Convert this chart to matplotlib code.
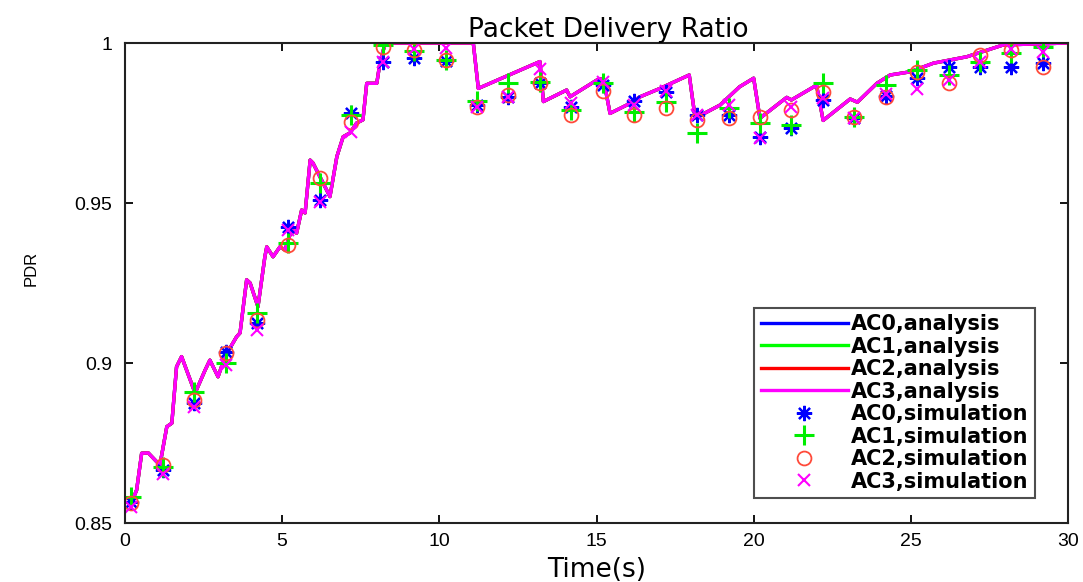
import matplotlib
matplotlib.use("Agg")
import matplotlib.pyplot as plt

# ---------------- data ----------------
analysis_time = [0.2, 0.37, 0.53, 0.74, 1.11, 1.33, 1.49, 1.64, 1.80, 2.23, 2.55, 2.70,
                 2.96, 3.18, 3.55, 3.66, 3.87, 3.98, 4.23, 4.45, 4.51, 4.71, 4.93, 5.09,
                 5.30, 5.46, 5.62, 5.73, 5.89, 5.98, 6.52, 6.74, 6.94, 7.16, 7.37, 7.57,
                 7.69, 8.01, 8.11, 8.28, 11.08, 11.24, 13.2, 13.31, 14.05, 14.16, 15.01,
                 15.22, 15.43, 15.96, 16.39, 17.02, 17.95, 18.14, 18.93, 19.55, 20.0,
                 20.2, 21.05, 21.2, 22.0, 22.21, 23.07, 23.3, 23.92, 24.34, 24.98, 25.72,
                 26.78, 27.94, 30.0]
analysis_pdr = [0.8562, 0.8603, 0.8718, 0.8719, 0.8681, 0.8801, 0.8812, 0.8988, 0.9020,
                0.8906, 0.8978, 0.9009, 0.8957, 0.9020, 0.9082, 0.9094, 0.9260, 0.9250,
                0.9176, 0.9332, 0.9363, 0.9332, 0.9363, 0.9353, 0.9416, 0.9406, 0.9478,
                0.9469, 0.9634, 0.9625, 0.9520, 0.9645, 0.9707, 0.9719, 0.9750, 0.9760,
                0.9874, 0.9874, 0.9938, 1.0, 1.0, 0.9858, 0.9942, 0.9817, 0.9853, 0.9832,
                0.9884, 0.9889, 0.9780, 0.9806, 0.9832, 0.9858, 0.9900, 0.9765, 0.9806,
                0.9863, 0.9890, 0.9765, 0.9830, 0.9822, 0.9868, 0.9758, 0.9825, 0.9815,
                0.9874, 0.9900, 0.9910, 0.9937, 0.9957, 0.9994, 1.0]

sim_time = [0.2, 1.2, 2.2, 3.2, 4.2, 5.2, 6.2, 7.2, 8.2, 9.2, 10.2, 11.2, 12.2, 13.2, 14.2,
            15.2, 16.2, 17.2, 18.2, 19.2, 20.2, 21.2, 22.2, 23.2, 24.2, 25.2, 26.2, 27.2,
            28.2, 29.2]
ac0_sim = [0.8567, 0.8666, 0.8874, 0.9035, 0.9124, 0.9424, 0.9509, 0.9780, 0.9942, 0.9952,
           0.9945, 0.9806, 0.9832, 0.9876, 0.9801, 0.9869, 0.9820, 0.9848, 0.9775, 0.9775,
           0.9707, 0.9733, 0.9822, 0.9765, 0.9834, 0.9890, 0.9926, 0.9926, 0.9924, 0.9937]
ac1_sim = [0.8582, 0.8676, 0.8910, 0.9000, 0.9155, 0.9376, 0.9563, 0.9775, 0.9994, 0.9976,
           0.9947, 0.9820, 0.9874, 0.9879, 0.9790, 0.9874, 0.9785, 0.9817, 0.9718, 0.9796,
           0.9749, 0.9744, 0.9874, 0.9770, 0.9869, 0.9916, 0.9900, 0.9942, 0.9968, 0.9989]
ac2_sim = [0.8561, 0.8681, 0.8884, 0.9030, 0.9134, 0.9369, 0.9577, 0.9754, 0.9989, 0.9978,
           0.9947, 0.9801, 0.9838, 0.9874, 0.9775, 0.9851, 0.9775, 0.9796, 0.9760, 0.9765,
           0.9770, 0.9790, 0.9848, 0.9770, 0.9832, 0.9910, 0.9874, 0.9963, 0.9978, 0.9926]
ac3_sim = [0.8550, 0.8653, 0.8862, 0.8994, 0.9103, 0.9416, 0.9504, 0.9723, 0.9942, 0.9980,
           0.9983, 0.9800, 0.9832, 0.9918, 0.9812, 0.9879, 0.9806, 0.9850, 0.9775, 0.9806,
           0.9702, 0.9801, 0.9827, 0.9765, 0.9840, 0.9855, 0.9884, 0.9942, 0.9980, 0.9973]

series_names = ["AC0", "AC1", "AC2", "AC3"]
x_ticks = [0, 5, 10, 15, 20, 25, 30]
y_ticks = [0.85, 0.9, 0.95, 1.0]
y_tick_labels = ["0.85", "0.9", "0.95", "1"]

# ---------------- plot ----------------
plt.rcParams['font.family'] = ['Liberation Sans', 'DejaVu Sans']
fig = plt.figure(figsize=(10.83, 5.82), dpi=100)
ax = fig.add_axes([125 / 1083, 1 - 523 / 582, 943 / 1083, 480 / 582])

line_colors = ['#0000ff', '#00ff00', '#ff0000', '#ff00ff']
for name, c in zip(series_names, line_colors):
    ax.plot(analysis_time, analysis_pdr, color=c, lw=2.4, label=f"{name},analysis")

ax.plot(sim_time, ac0_sim, ls='none', marker=(8, 2, 0), ms=11, mew=1.6,
        color='#0000ff', label="AC0,simulation")
ax.plot(sim_time, ac1_sim, ls='none', marker='+', ms=15, mew=2.2,
        color='#00ee00', label="AC1,simulation")
ax.plot(sim_time, ac2_sim, ls='none', marker='o', ms=10, mew=1.3, mfc='none',
        color='#ff4a3a', label="AC2,simulation")
ax.plot(sim_time, ac3_sim, ls='none', marker='x', ms=8, mew=1.5,
        color='#ff00ff', label="AC3,simulation")

ax.set_xlim(0, 30)
ax.set_ylim(0.85, 1.0)
ax.set_xticks(x_ticks)
ax.set_yticks(y_ticks)
ax.set_yticklabels(y_tick_labels)
ax.tick_params(direction='in', length=6, width=1.3, labelsize=14, top=True, right=True)
ax.tick_params(axis='x', pad=7)
ax.tick_params(axis='y', pad=9)
for sp in ax.spines.values():
    sp.set_linewidth(1.5)
    sp.set_color('#222222')

ax.set_title("Packet Delivery Ratio", fontsize=19, pad=4, family='DejaVu Sans', x=0.512)
ax.set_xlabel("Time(s)", fontsize=19, labelpad=5, family='DejaVu Sans')
ax.set_ylabel("PDR", fontsize=12)
ax.yaxis.set_label_coords(-0.092, 0.53)

leg = ax.legend(loc='lower right', bbox_to_anchor=(0.965, 0.052), borderaxespad=0,
                prop={'family': 'DejaVu Sans', 'weight': 'bold', 'size': 15},
                frameon=True, fancybox=False, edgecolor='#222222',
                labelspacing=0.12, handlelength=4.2, handletextpad=0.15,
                borderpad=0.3)
leg.get_frame().set_linewidth(1.5)

fig.savefig("out.png", dpi=100)
